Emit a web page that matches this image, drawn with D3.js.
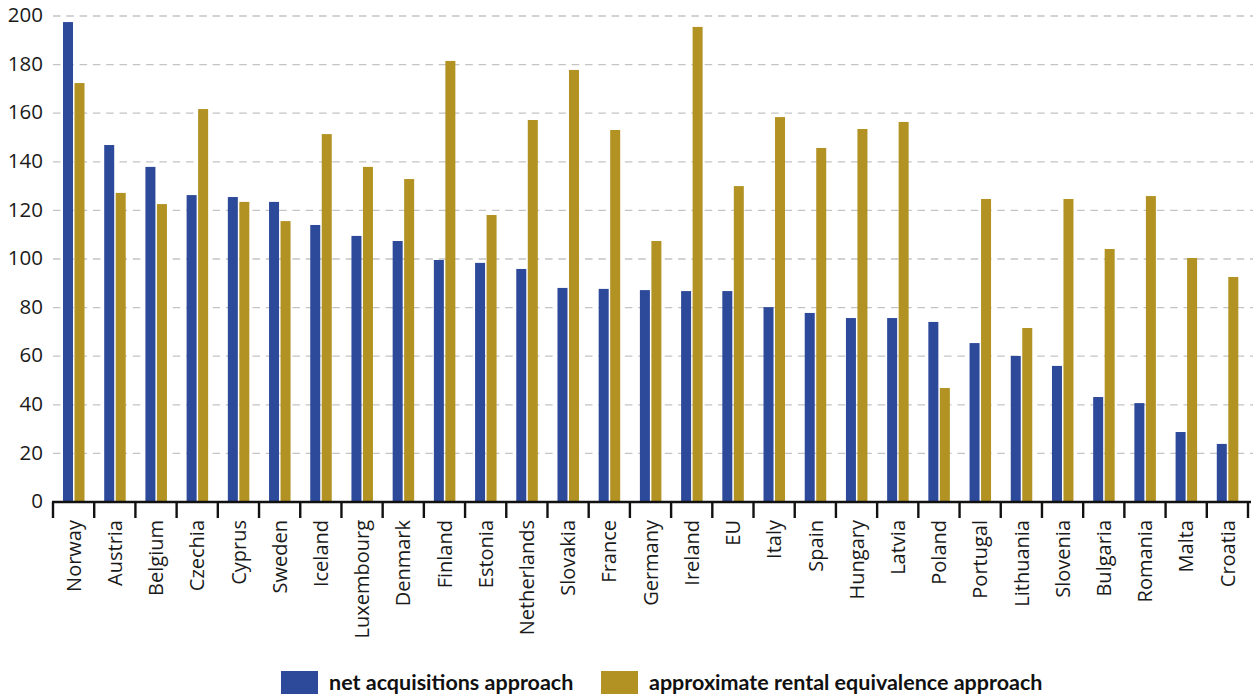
<!DOCTYPE html>
<html>
<head>
<meta charset="utf-8">
<script src="https://cdn.jsdelivr.net/npm/d3@7"></script>
<style>
  html, body { margin: 0; padding: 0; background: #fff; }
  svg { display: block; }
</style>
</head>
<body>
<svg id="chart" width="1253" height="696"></svg>
<script>
// Housing price index by approach, per country
const countries = ["Norway", "Austria", "Belgium", "Czechia", "Cyprus", "Sweden", "Iceland",
  "Luxembourg", "Denmark", "Finland", "Estonia", "Netherlands", "Slovakia", "France", "Germany",
  "Ireland", "EU", "Italy", "Spain", "Hungary", "Latvia", "Poland", "Portugal", "Lithuania",
  "Slovenia", "Bulgaria", "Romania", "Malta", "Croatia"];

const netAcquisitions = [197.5, 146.9, 137.9, 126.3, 125.5, 123.5, 114.0, 109.5, 107.4, 99.6,
  98.4, 95.9, 88.1, 87.7, 87.2, 86.8, 86.8, 80.2, 77.8, 75.7, 75.7, 74.1, 65.4, 60.1, 56.0,
  43.2, 40.7, 28.8, 23.9];

const rentalEquivalence = [172.4, 127.2, 122.6, 161.7, 123.5, 115.6, 151.4, 137.9, 132.9, 181.5,
  118.1, 157.2, 177.8, 153.1, 107.4, 195.5, 130.0, 158.4, 145.7, 153.5, 156.4, 46.9, 124.7, 71.6,
  124.7, 104.1, 125.9, 100.4, 92.6];

const yTicks = [0, 20, 40, 60, 80, 100, 120, 140, 160, 180, 200];

const seriesNames = ["net acquisitions approach", "approximate rental equivalence approach"];
const seriesColors = ["#2d4999", "#b29222"];

const svg = d3.select("#chart");
const plotLeft = 53, plotRight = 1248, plotTop = 16, plotBottom = 502;

const x = d3.scaleBand().domain(countries).range([plotLeft, plotRight]).padding(0);
const y = d3.scaleLinear().domain([0, 200]).range([plotBottom, plotTop]);

const barW = 10;

// Dashed horizontal gridlines
svg.append("g")
  .selectAll("line")
  .data(yTicks.filter(d => d > 0))
  .join("line")
  .attr("x1", plotLeft).attr("x2", 1253)
  .attr("y1", d => y(d)).attr("y2", d => y(d))
  .attr("stroke", "#c4c4c4")
  .attr("stroke-width", 1.3)
  .attr("stroke-dasharray", "7.5,5.8");

// Y tick labels
svg.append("g")
  .selectAll("text")
  .data(yTicks)
  .join("text")
  .attr("x", 43)
  .attr("y", d => y(d))
  .attr("dy", "0.3em")
  .attr("text-anchor", "end")
  .attr("font-family", "'Open Sans', sans-serif")
  .attr("font-size", 20.5)
  .attr("fill", "#1a1a1a")
  .text(d => d);

// Bars
const bars = svg.append("g");
countries.forEach((c, i) => {
  const cx = x(c) + x.bandwidth() / 2;
  bars.append("rect")
    .attr("x", cx - 10.6)
    .attr("width", barW)
    .attr("y", y(netAcquisitions[i]))
    .attr("height", y(0) - y(netAcquisitions[i]))
    .attr("fill", seriesColors[0]);
  bars.append("rect")
    .attr("x", cx + 0.9)
    .attr("width", barW)
    .attr("y", y(rentalEquivalence[i]))
    .attr("height", y(0) - y(rentalEquivalence[i]))
    .attr("fill", seriesColors[1]);
});

// X axis line and category boundary ticks
const axis = svg.append("g");
axis.append("line")
  .attr("x1", plotLeft - 1).attr("x2", 1251)
  .attr("y1", plotBottom).attr("y2", plotBottom)
  .attr("stroke", "#111").attr("stroke-width", 2.4);

const boundaries = countries.map(c => x(c)).concat([x.range()[1]]);
axis.selectAll("line.tick")
  .data(boundaries)
  .join("line")
  .attr("class", "tick")
  .attr("x1", d => d).attr("x2", d => d)
  .attr("y1", plotBottom).attr("y2", 518)
  .attr("stroke", "#111").attr("stroke-width", 2.4);

// Rotated category labels
axis.selectAll("text")
  .data(countries)
  .join("text")
  .attr("transform", d => `translate(${x(d) + x.bandwidth() / 2},520) rotate(-90)`)
  .attr("dy", "0.36em")
  .attr("text-anchor", "end")
  .attr("font-family", "'Open Sans', sans-serif")
  .attr("font-size", 20)
  .attr("fill", "#1a1a1a")
  .text(d => d);

// Legend
const legendItems = [
  { name: seriesNames[0], color: seriesColors[0], sx: 281, tx: 329 },
  { name: seriesNames[1], color: seriesColors[1], sx: 601, tx: 649 }
];
const legend = svg.append("g");
legendItems.forEach(it => {
  legend.append("rect")
    .attr("x", it.sx).attr("y", 671)
    .attr("width", 37).attr("height", 23)
    .attr("fill", it.color);
  legend.append("text")
    .attr("x", it.tx).attr("y", 689.5)
    .attr("font-family", "Lato, sans-serif")
    .attr("font-weight", "bold")
    .attr("font-size", 21.5)
    .attr("fill", "#111")
    .text(it.name);
});
</script>
</body>
</html>
